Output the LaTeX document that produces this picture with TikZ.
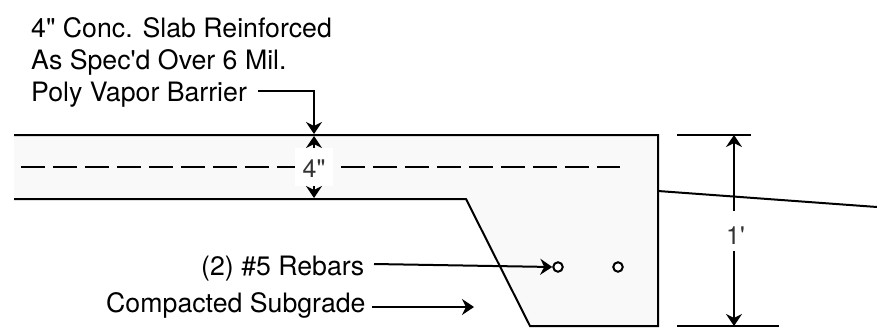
\documentclass[tikz,border=0pt]{standalone}
\usepackage{fontspec}
\newfontfamily\lab{TeX Gyre Heros}
\usetikzlibrary{arrows.meta}
\definecolor{conc}{HTML}{F9F9F9}
\tikzset{
 x=1pt,y=-1pt,
 edge/.style={line width=2pt,line join=miter},
 lead/.style={line width=2pt,-{Stealth[length=12pt,width=16pt,inset=4pt]}},
 lbl/.style={font=\lab\fontsize{26.7}{30}\selectfont,inner sep=0pt,text=black,anchor=base west},
 dimlbl/.style={font=\lab\fontsize{25}{30}\selectfont,inner sep=0pt,text=black!80,fill=white},
 bar/.style={circle,draw,line width=2pt,minimum size=9.5pt,inner sep=0pt,fill=white}
}
\begin{document}
\begin{tikzpicture}
\useasboundingbox (0,0) rectangle (877,332);
\fill[conc] (14,135) -- (658,135) -- (658,326) -- (530,326) -- (466,199) -- (14,199) -- cycle;
\draw[edge] (14,135) -- (658,135) -- (658,326) -- (530,326) -- (466,199) -- (14,199);
\draw[line width=2pt,dash pattern=on 24pt off 8pt] (21,167) -- (620,167);
\node[lbl] (l1) at (31,37) {4" Conc. Slab Reinforced};
\node[lbl] (l2) at (31,69.5) {As Spec'd Over 6 Mil.};
\node[lbl] (l3) at (31,101) {Poly Vapor Barrier};
\node[lbl] (l4) at (201,275) {(2) \#5 Rebars};
\node[lbl] (l5) at (106,312) {Compacted Subgrade};
\node[dimlbl,minimum width=38pt,minimum height=38pt] (d4) at (314,167) {\raisebox{-10.5pt}[0pt][0pt]{4"}};
\coordinate (c1) at (314,91);
\coordinate (c2) at (314,134);
\coordinate (s1) at (314,136);
\coordinate (s2) at (314,198);
\coordinate (t1) at (677,135);
\coordinate (t2) at (751,135);
\coordinate (b1) at (677,326);
\coordinate (b2) at (779,326);
\coordinate (m1) at (734,135);
\coordinate (m2) at (734,326);
\coordinate (r1) at (658,191);
\coordinate (r2) at (877,207);
\draw[lead] (258,91) -- (c1) -- (c2);
\draw[lead] (d4.north) -- (s1);
\draw[lead] (d4.south) -- (s2);
\draw[edge] (t1) -- (t2);
\draw[edge] (b1) -- (b2);
\draw[line width=2pt] (r1) -- (r2);
\node[dimlbl,minimum width=24pt,minimum height=40pt] (d1) at (735.5,231) {\raisebox{-13pt}[0pt][0pt]{1'}};
\draw[lead] (734,211) -- (m1);
\draw[lead] (734,251) -- (m2);
\node[bar] (b1r) at (558,267) {};
\node[bar] (b2r) at (618,267) {};
\draw[lead] (374,264) -- (b1r.west);
\draw[lead] (372,307) -- (474,307);
\end{tikzpicture}
\end{document}
